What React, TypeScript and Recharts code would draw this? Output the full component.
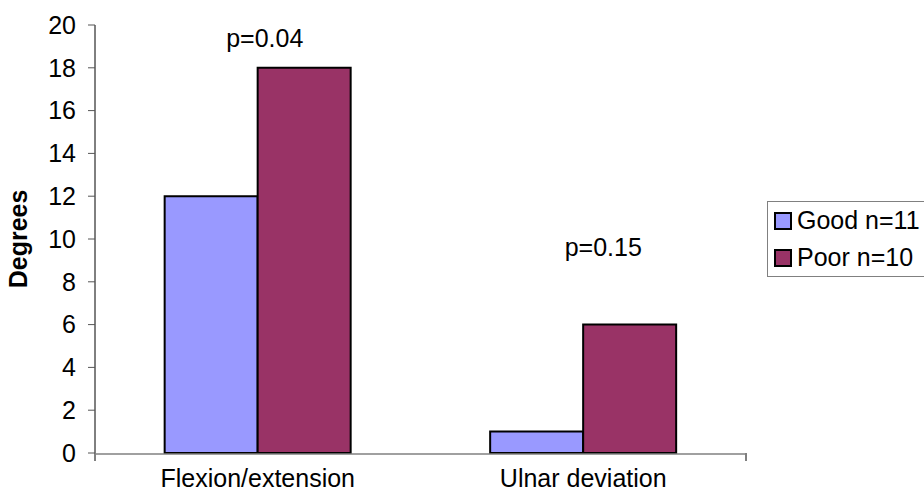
import React from 'react';
import { BarChart, Bar, XAxis, YAxis, Legend, ReferenceDot } from 'recharts';

const categories = ['Flexion/extension', 'Ulnar deviation'];
const goodValues = [12, 1];
const poorValues = [18, 6];
const seriesNames = ['Good n=11', 'Poor n=10'];
const yTicks = [0, 2, 4, 6, 8, 10, 12, 14, 16, 18, 20];
const edgeTicks = [0, 1, 2];
const pLabels = ['p=0.04', 'p=0.15'];
const pLevels = [19.4, 9.6];

const data = categories.map((c, i) => ({ category: c, good: goodValues[i], poor: poorValues[i] }));

const FONT = '"Liberation Sans", Arial, sans-serif';
const GOOD = '#9999FF';
const POOR = '#993366';

const renderLegend = (props: any) => {
  const payload = props.payload || [];
  return (
    <div
      style={{
        border: '1px solid #808080',
        background: '#fff',
        boxSizing: 'border-box',
        width: 170,
        height: 76,
        paddingLeft: 6,
        fontFamily: FONT,
        fontSize: 25,
        color: '#000',
      }}
    >
      {payload.map((p: any, i: number) => (
        <div key={i} style={{ height: 37, display: 'flex', alignItems: 'center' }}>
          <span
            style={{
              display: 'inline-block',
              width: 18,
              height: 18,
              boxSizing: 'border-box',
              border: '2px solid #000',
              background: p.color,
              marginRight: 5,
            }}
          />
          <span style={{ whiteSpace: 'nowrap' }}>{p.value}</span>
        </div>
      ))}
    </div>
  );
};

const DegreesLabel = (props: any) => {
  const vb = props.viewBox || { x: 35, y: 25, width: 60, height: 428 };
  const x = vb.x - 17;
  const y = vb.y + vb.height / 2;
  return (
    <text
      x={x}
      y={y}
      transform={`rotate(-90, ${x}, ${y})`}
      textAnchor="middle"
      dominantBaseline="central"
      fontWeight="bold"
      fontSize={25}
      fontFamily={FONT}
      fill="#000"
    >
      Degrees
    </text>
  );
};

const EmptyTick = () => <g />;

export default function App() {
  return (
    <div style={{ position: 'absolute', left: 0, top: 0, width: 924, height: 499, overflow: 'hidden', background: '#fff' }}>
      <BarChart
        width={924}
        height={499}
        data={data}
        margin={{ top: 25, right: 178, bottom: 0, left: 35 }}
        barCategoryGap="21.4%"
        barGap={0}
        style={{ fontFamily: FONT }}
      >
        <XAxis
          type="number"
          domain={[0, 2]}
          ticks={edgeTicks}
          height={1}
          axisLine={false}
          tick={<EmptyTick />}
          tickLine={{ stroke: '#000', strokeWidth: 1 }}
          tickSize={8}
        />
        <XAxis
          xAxisId="cat"
          dataKey="category"
          height={45}
          interval={0}
          axisLine={{ stroke: '#808080', strokeWidth: 1.5 }}
          tickLine={false}
          tickSize={0}
          tickMargin={15}
          tick={{ fill: '#000', fontSize: 25, fontFamily: FONT }}
        />
        <YAxis
          width={60}
          domain={[0, 20]}
          ticks={yTicks}
          interval={0}
          axisLine={{ stroke: '#000', strokeWidth: 1 }}
          tickLine={{ stroke: '#555', strokeWidth: 1 }}
          tickSize={7}
          tickMargin={12}
          tick={{ fill: '#000', fontSize: 25, fontFamily: FONT }}
          label={<DegreesLabel />}
        />
        <Legend
          layout="vertical"
          align="center"
          verticalAlign="middle"
          content={renderLegend}
          wrapperStyle={{ left: 767, top: 201, width: 170, height: 76 }}
        />
        <Bar xAxisId="cat" dataKey="good" name={seriesNames[0]} fill={GOOD} stroke="#000" strokeWidth={2} isAnimationActive={false} />
        <Bar xAxisId="cat" dataKey="poor" name={seriesNames[1]} fill={POOR} stroke="#000" strokeWidth={2} isAnimationActive={false} />
        <ReferenceDot
          xAxisId="cat"
          x={categories[0]}
          y={pLevels[0]}
          r={0}
          fill="none"
          stroke="none"
          label={{ value: pLabels[0], position: 'center', dx: 7, fontSize: 25, fill: '#000', fontFamily: FONT }}
        />
        <ReferenceDot
          xAxisId="cat"
          x={categories[1]}
          y={pLevels[1]}
          r={0}
          fill="none"
          stroke="none"
          label={{ value: pLabels[1], position: 'center', dx: 20, fontSize: 25, fill: '#000', fontFamily: FONT }}
        />
      </BarChart>
    </div>
  );
}
